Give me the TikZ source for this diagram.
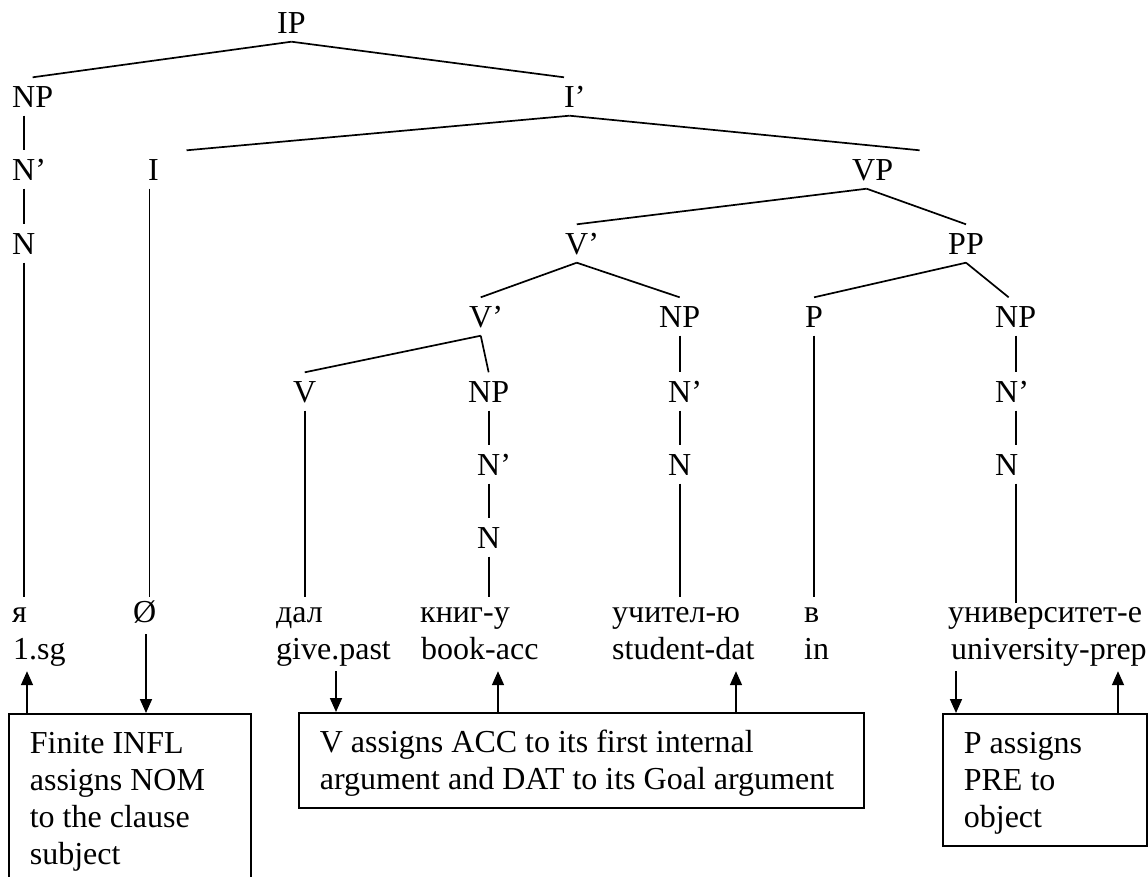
\documentclass[tikz,border=0pt]{standalone}
\usepackage{fontspec}
\setmainfont{Liberation Serif}
\usetikzlibrary{arrows.meta}
\begin{document}
\begin{tikzpicture}[x=1pt,y=-1pt,
  every node/.style={font=\fontsize{32}{37}\selectfont},
  cat/.style={anchor=base west, inner xsep=0pt, inner ysep=8.5pt, text height=21pt, text depth=0pt},
  word/.style={anchor=base west, inner xsep=0pt, inner ysep=4pt, text height=21pt, text depth=8pt},
  branch/.style={line width=1.7pt},
  caseArrow/.style={line width=1.7pt, -{Triangle[width=12pt,length=14pt]}},
  note/.style={draw, line width=1.7pt, anchor=north west, align=flush left, inner xsep=21pt, inner ysep=11pt},
]
\useasboundingbox (0,0) rectangle (1148,876);
\clip (0,0) rectangle (1148,876);

% categories of the tree
\node[cat] (IP)  at (277,33)  {IP};
\node[cat] (NPs) at (12,107)  {NP};
\node[cat] (Ib)  at (564,107) {I\rlap{’}};
\node[cat] (Nbs) at (12,180)  {N\rlap{’}};
\node[cat] (I)   at (148,180) {I};
\node[cat] (VP)  at (852,180) {VP};
\node[cat] (Ns)  at (12,254)  {N};
\node[cat] (Vb1) at (565,254) {V\rlap{’}};
\node[cat] (PP)  at (948,254) {PP};
\node[cat] (Vb2) at (469,327) {V\rlap{’}};
\node[cat] (NPd) at (659,327) {NP};
\node[cat] (P)   at (805,327) {P};
\node[cat] (NPp) at (995,327) {NP};
\node[cat] (V)   at (293,402) {V};
\node[cat] (NPa) at (468,402) {NP};
\node[cat] (Nbd) at (668,402) {N\rlap{’}};
\node[cat] (Nbp) at (995,402) {N\rlap{’}};
\node[cat] (Nba) at (477,475) {N\rlap{’}};
\node[cat] (Nd)  at (668,475) {N};
\node[cat] (Np)  at (995,475) {N};
\node[cat] (Na)  at (477,548) {N};

% Russian words and their glosses
\node[word] (wYa)    at (12,622)  {я};
\node[word] (wNull)  at (133,622) {Ø};
\node[word] (wDal)   at (276,622) {дал};
\node[word] (wKnig)  at (420,622) {книг-у};
\node[word] (wUchit) at (612,622) {учител-ю};
\node[word] (wV)     at (804,622) {в};
\node[word] (wUniv)  at (948,622) {университет-е};
\node[word] (gSg)    at (13,659)  {1.sg};
\node[word] (gGive)  at (276,659) {give.past};
\node[word] (gBook)  at (421,659) {book-acc};
\node[word] (gStud)  at (612,659) {student-dat};
\node[word] (gIn)    at (804,659) {in};
\node[word] (gUniv)  at (951,659) {university-prep};

% branching lines
\draw[branch] (IP.south) -- (NPs.north);
\draw[branch] (IP.south) -- (Ib.north west);
\draw[branch] (Ib.south) -- ([xshift=33pt]I.north);
\draw[branch] (Ib.south) -- ([xshift=47pt]VP.north);
\draw[branch] ([xshift=-6pt]VP.south) -- (Vb1.north);
\draw[branch] ([xshift=-6pt]VP.south) -- (PP.north);
\draw[branch] (Vb1.south) -- (Vb2.north);
\draw[branch] (Vb1.south) -- (NPd.north);
\draw[branch] (Vb2.south) -- (V.north);
\draw[branch] (Vb2.south) -- (NPa.north);
\draw[branch] (PP.south) -- (P.north);
\draw[branch] (PP.south) -- ([xshift=-7pt]NPp.north);

% unary lines down to the words
\draw[branch] (NPs.south -| Ns) -- (Nbs.north -| Ns);
\draw[branch] (Nbs.south -| Ns) -- (Ns.north);
\draw[branch] (Ns.south) -- (wYa.north -| Ns);
\draw[branch] ([xshift=-4pt]I.south) -- ([xshift=-4pt]wNull.north -| I);
\draw[branch] (V.south) -- (wDal.north -| V);
\draw[branch] (NPa.south -| Na) -- (Nba.north -| Na);
\draw[branch] (Nba.south -| Na) -- (Na.north);
\draw[branch] (Na.south) -- (wKnig.north -| Na);
\draw[branch] (NPd.south -| Nd) -- (Nbd.north -| Nd);
\draw[branch] (Nbd.south -| Nd) -- (Nd.north);
\draw[branch] (Nd.south) -- (wUchit.north -| Nd);
\draw[branch] (P.south) -- (wV.north -| P);
\draw[branch] (NPp.south) -- (Nbp.north -| NPp);
\draw[branch] (Nbp.south -| NPp) -- (Np.north -| NPp);
\draw[branch] (Np.south -| NPp) -- ([yshift=-6pt]wUniv.north -| NPp);

% case-assignment notes
\node[note, text width=200pt] (boxI) at (8,713)
  {\rule{0pt}{29pt}Finite INFL\\assigns NOM\\to the clause\\subject};
\node[note, text width=523pt] (boxV) at (298,712)
  {\rule{0pt}{29pt}V assigns ACC to its first internal\\argument and DAT to its Goal argument};
\node[note, text width=162pt] (boxP) at (942,713)
  {\rule{0pt}{29pt}P assigns\\PRE to\\object};

% columns of the case arrows
\coordinate (xSg)    at (27,0);
\coordinate (xNull)  at (146,0);
\coordinate (xGive)  at (336,0);
\coordinate (xBook)  at (498,0);
\coordinate (xStud)  at (736,0);
\coordinate (xUnivD) at (956,0);
\coordinate (xUnivU) at (1118,0);

\draw[caseArrow] (boxI.north -| xSg) -- (gSg.south -| xSg);
\draw[caseArrow] (wNull.south -| xNull) -- (boxI.north -| xNull);
\draw[caseArrow] (gGive.south -| xGive) -- (boxV.north -| xGive);
\draw[caseArrow] (boxV.north -| xBook) -- (gBook.south -| xBook);
\draw[caseArrow] (boxV.north -| xStud) -- (gStud.south -| xStud);
\draw[caseArrow] (gUniv.south -| xUnivD) -- (boxP.north -| xUnivD);
\draw[caseArrow] (boxP.north -| xUnivU) -- (gUniv.south -| xUnivU);
\end{tikzpicture}
\end{document}
